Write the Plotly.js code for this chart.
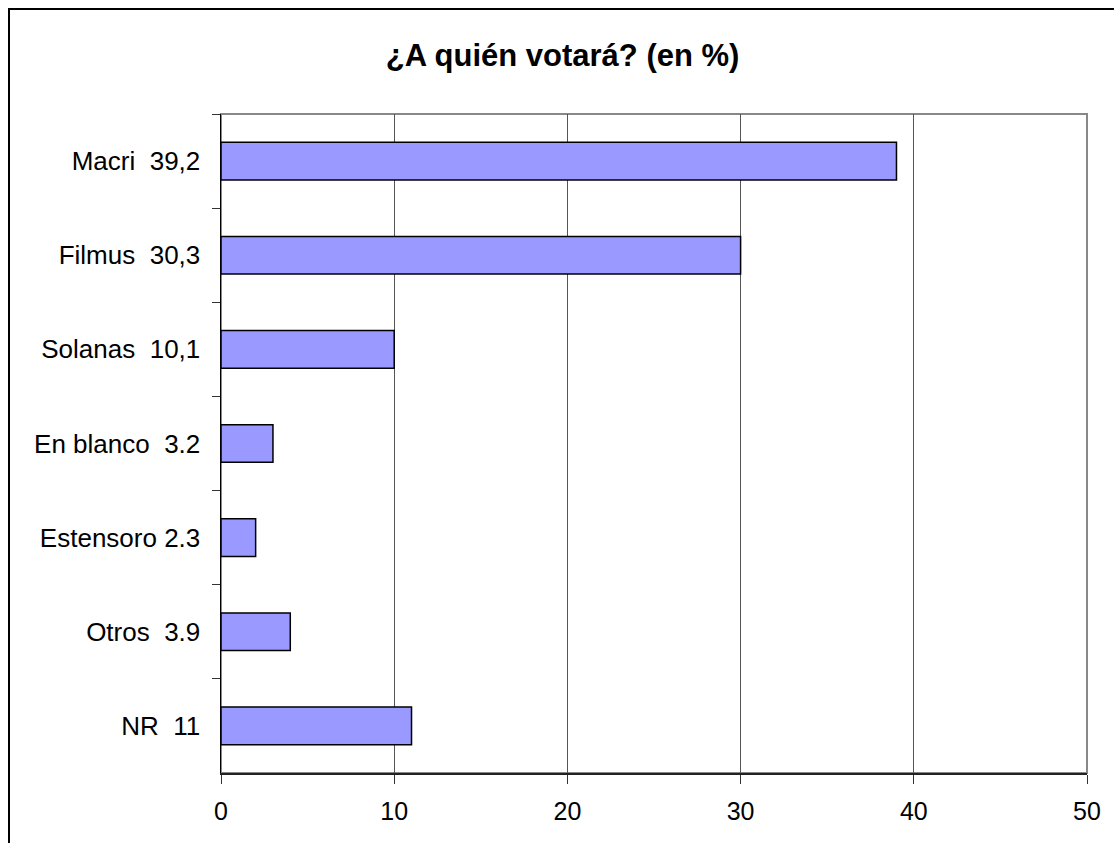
<!DOCTYPE html>
<html>
<head>
<meta charset="utf-8">
<script src="https://cdn.plot.ly/plotly-3.0.1.min.js"></script>
<style>
    body { margin: 0; background: #ffffff; overflow: hidden; }
    #frame {
        position: absolute; left: 8px; top: 8px;
        width: 1200px; height: 1000px;
        border: 2px solid #000000;
    }
    #myPlot { position: absolute; left: 0; top: 0; width: 1114px; height: 843px; }
</style>
</head>
<body>
<div id="frame"></div>
<div id="myPlot"></div>
<script>
// Data (labels carry the printed figures, bars the drawn lengths)
const categories = ['Macri\u00a0\u00a039,2', 'Filmus\u00a0\u00a030,3', 'Solanas\u00a0\u00a010,1',
    'En blanco\u00a0\u00a03.2', 'Estensoro 2.3', 'Otros\u00a0\u00a03.9', 'NR\u00a0\u00a011'];
const values = [39, 30, 10, 3, 2, 4, 11];
const xTicks = [0, 10, 20, 30, 40, 50];

const trace = {
    type: 'bar',
    orientation: 'h',
    x: values,
    y: categories,
    marker: { color: '#9999ff', line: { color: '#000000', width: 1.5 } },
    hoverinfo: 'x+y'
};

const layout = {
    width: 1114,
    height: 843,
    margin: { l: 221, r: 27, t: 114, b: 70 },
    paper_bgcolor: 'rgba(0,0,0,0)',
    plot_bgcolor: '#ffffff',
    font: { family: 'Liberation Sans, Arial, sans-serif', size: 26, color: '#000000' },
    title: {
        text: '<b>¿A quién votará? (en %)</b>',
        font: { size: 31 },
        x: 0.505, xanchor: 'center',
        y: 0.935, yanchor: 'middle'
    },
    bargap: 0.6,
    showlegend: false,
    xaxis: {
        range: [0, 50],
        tickvals: xTicks,
        tickfont: { size: 25 },
        ticks: 'outside', ticklen: 9, tickcolor: '#333333', tickwidth: 1,
        showgrid: true, gridcolor: '#555555', gridwidth: 1,
        zeroline: false,
        showline: true, linecolor: '#222222', linewidth: 1.5,
        ticklabelstandoff: 6,
        fixedrange: true
    },
    yaxis: {
        autorange: 'reversed',
        ticks: 'outside', tickson: 'boundaries', ticklen: 8, tickcolor: '#333333',
        showgrid: false,
        showline: true, linecolor: '#000000', linewidth: 1.5,
        ticklabelstandoff: 14,
        fixedrange: true
    },
    shapes: [{
        type: 'rect', xref: 'paper', yref: 'paper',
        x0: 0, x1: 1, y0: 0, y1: 1,
        line: { color: '#888888', width: 2 },
        layer: 'below'
    }]
};

Plotly.newPlot('myPlot', [trace], layout, { displayModeBar: false, staticPlot: true });
</script>
</body>
</html>
